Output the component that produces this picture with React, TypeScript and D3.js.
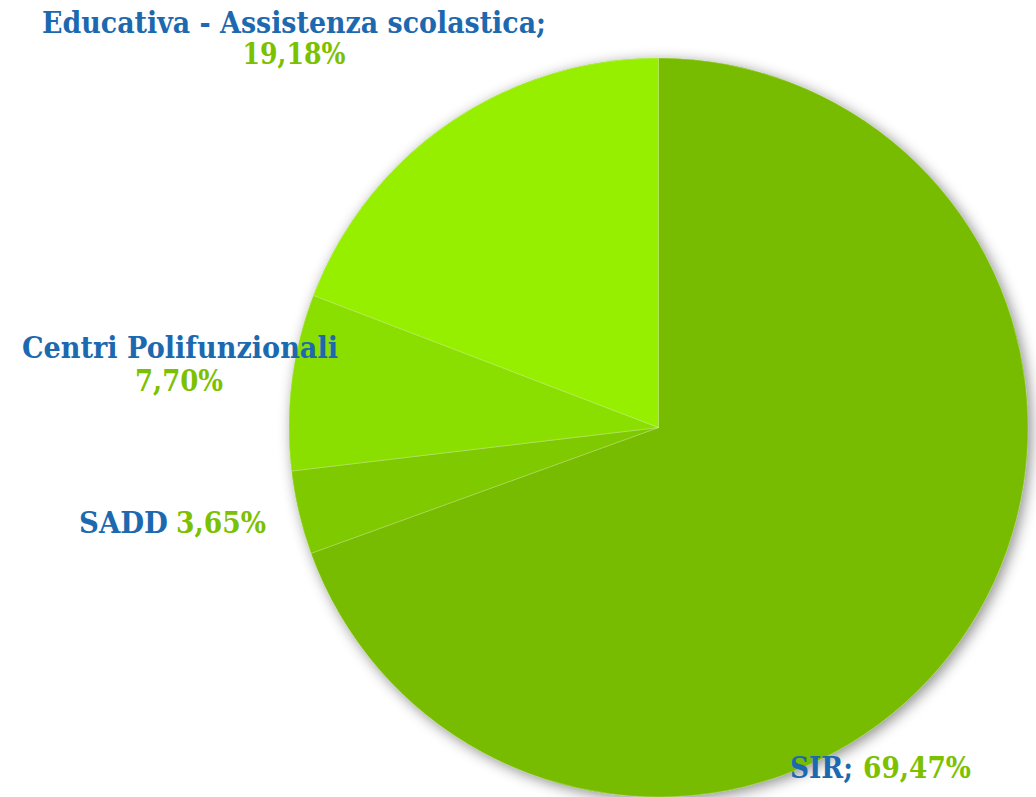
import React, { useEffect, useRef } from "react";
import * as d3 from "d3";

// slices, clockwise from 12 o'clock
const categories = ["SIR", "SADD", "Centri Polifunzionali", "Educativa - Assistenza scolastica"];
const values = [69.47, 3.65, 7.7, 19.18];
const valueLabels = ["69,47%", "3,65%", "7,70%", "19,18%"];
const sliceColors = ["#77bc00", "#7fc900", "#8adf00", "#97ef00"];

const WIDTH = 1036;
const HEIGHT = 797;
const BLUE = "#1c69b0";
const GREEN = "#7cc100";
const FONT = "'DejaVu Serif', Georgia, serif";

// label layout: name/value x, fitted width and baseline
type Lab = { name: string; nx: number; nw: number; ny: number; vx: number; vw: number; vy: number; anchor: "start" | "middle" };
const labelLayout: Lab[] = [
	{ name: "SIR;", nx: 790, nw: 63, ny: 778, vx: 863, vw: 108, vy: 778, anchor: "start" },
	{ name: "SADD", nx: 79, nw: 89, ny: 533, vx: 176, vw: 90, vy: 533, anchor: "start" },
	{ name: "Centri Polifunzionali", nx: 180, nw: 316, ny: 358, vx: 179, vw: 88, vy: 391, anchor: "middle" },
	{ name: "Educativa - Assistenza scolastica;", nx: 294, nw: 504, ny: 33, vx: 294, vw: 103, vy: 64, anchor: "middle" },
];

export default function App() {
	const ref = useRef<SVGSVGElement>(null);

	useEffect(() => {
		const svg = d3.select(ref.current);
		svg.selectAll("*").remove();

		const cx = 658.5;
		const cy = 427.5;
		const r = 369.5;

		const defs = svg.append("defs");
		const f = defs
			.append("filter")
			.attr("id", "shadow")
			.attr("x", "-10%")
			.attr("y", "-10%")
			.attr("width", "120%")
			.attr("height", "120%");
		f.append("feDropShadow")
			.attr("dx", 3)
			.attr("dy", 3)
			.attr("stdDeviation", 7)
			.attr("flood-color", "#000")
			.attr("flood-opacity", 0.45);

		const data = categories.map((c, i) => ({ c, v: values[i], i }));
		const pie = d3
			.pie<{ c: string; v: number; i: number }>()
			.sort(null)
			.value((d) => d.v);
		const arc = d3
			.arc<d3.PieArcDatum<{ c: string; v: number; i: number }>>()
			.innerRadius(0)
			.outerRadius(r);

		const g = svg.append("g").attr("transform", `translate(${cx},${cy})`);
		g.append("circle").attr("r", r).attr("fill", "#77bc00").attr("filter", "url(#shadow)");
		g.selectAll("path")
			.data(pie(data))
			.enter()
			.append("path")
			.attr("d", arc)
			.attr("fill", (d) => sliceColors[d.data.i])
			.attr("stroke", "rgba(255,255,255,0.25)")
			.attr("stroke-width", 1);

		const labels = svg.append("g").attr("font-family", FONT).attr("font-weight", "bold").attr("font-size", 29);
		labelLayout.forEach((l, i) => {
			labels
				.append("text")
				.attr("x", l.nx)
				.attr("y", l.ny)
				.attr("text-anchor", l.anchor)
				.attr("fill", BLUE)
				.attr("textLength", l.nw)
				.attr("lengthAdjust", "spacingAndGlyphs")
				.text(l.name);
			labels
				.append("text")
				.attr("x", l.vx)
				.attr("y", l.vy)
				.attr("text-anchor", l.anchor)
				.attr("fill", GREEN)
				.attr("textLength", l.vw)
				.attr("lengthAdjust", "spacingAndGlyphs")
				.text(valueLabels[i]);
		});
	}, []);

	return (
		<svg
			ref={ref}
			width={WIDTH}
			height={HEIGHT}
			style={{ position: "absolute", left: 0, top: 0, background: "#fff" }}
		></svg>
	);
}
